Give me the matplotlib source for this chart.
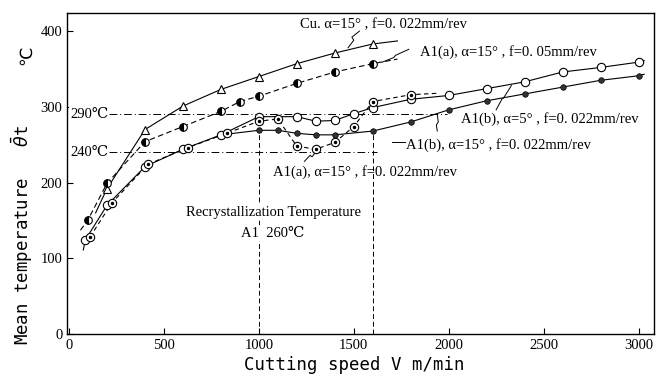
import matplotlib
matplotlib.use("Agg")
import matplotlib.pyplot as plt

# Cu, alpha=15, f=0.022
cu_v = [200, 400, 600, 800, 1000, 1200, 1400, 1600]
cu_t = [192, 270, 301, 323, 340, 357, 371, 383]
cu_line_v = [140] + cu_v + [1730]
cu_line_t = [160] + cu_t + [387]

# Al(a), alpha=15, f=0.05
a05_v = [100, 200, 400, 600, 800, 900, 1000, 1200, 1400, 1600]
a05_t = [151, 199, 254, 274, 294, 307, 314, 331, 346, 357]
a05_line_v = [60] + a05_v + [1730]
a05_line_t = [137] + a05_t + [363]

# Al(b), alpha=5, f=0.022 (open circles)
b5_v = [85, 200, 400, 600, 800, 1000, 1200, 1300, 1400, 1500, 1600,
        1800, 2000, 2200, 2400, 2600, 2800, 3000]
b5_t = [124, 170, 221, 244, 263, 287, 287, 281, 282, 291, 299,
        310, 315, 324, 333, 346, 352, 359]
b5_line_v = [75] + b5_v + [3030]
b5_line_t = [111] + b5_t + [361]

# Al(b), alpha=15, f=0.022 (filled circles)
b15_v = [1000, 1100, 1200, 1300, 1400, 1600, 1800, 2000, 2200, 2400, 2600, 2800, 3000]
b15_t = [269, 269, 265, 263, 263, 268, 280, 296, 308, 317, 326, 335, 341]
b15_line_v = [800] + b15_v + [3030]
b15_line_t = [263] + b15_t + [343]

# Al(a), alpha=15, f=0.022 (dotted circles)
a22_v = [110, 225, 415, 625, 830, 1000, 1100, 1200, 1300, 1400, 1500, 1600, 1800]
a22_t = [128, 173, 224, 246, 265, 281, 284, 248, 244, 253, 274, 307, 316]
a22_line_v = a22_v + [1950]
a22_line_t = a22_t + [318]

x_ticks = [0, 500, 1000, 1500, 2000, 2500, 3000]
y_ticks = [0, 100, 200, 300, 400]

serif = ['Liberation Serif', 'DejaVu Serif', 'DejaVu Sans']
mono = ['DejaVu Sans Mono', 'DejaVu Sans']

fig = plt.figure(figsize=(6.65, 3.8), dpi=100)
ax = fig.add_axes([0.101, 0.121, 0.882, 0.845])
k = 'black'
lw = 0.8

# reference lines
ax.plot([210, 1990], [290, 290], color=k, lw=0.7, linestyle=(0, (8, 3, 1, 3)), zorder=1)
ax.plot([210, 1620], [240, 240], color=k, lw=0.7, linestyle=(0, (8, 3, 1, 3)), zorder=1)
ax.plot([1000, 1000], [0, 268], color=k, lw=0.7, linestyle=(0, (5, 3)), zorder=1)
ax.plot([1600, 1600], [0, 266], color=k, lw=0.7, linestyle=(0, (5, 3)), zorder=1)
ax.text(5, 290, '290℃', family=serif, fontsize=10.5, ha='left', va='center',
        bbox=dict(facecolor='white', edgecolor='none', pad=0.5), zorder=2)
ax.text(5, 240, '240℃', family=serif, fontsize=10.5, ha='left', va='center',
        bbox=dict(facecolor='white', edgecolor='none', pad=0.5), zorder=2)

# curves
ax.plot(cu_line_v, cu_line_t, color=k, lw=lw, zorder=3)
ax.plot(cu_v, cu_t, linestyle='none', marker='^', ms=6, mfc='white', mec=k, mew=0.8, zorder=5)

ax.plot(a05_line_v, a05_line_t, color=k, lw=lw, linestyle=(0, (5, 3)), zorder=3)
ax.plot(a05_v, a05_t, linestyle='none', marker='o', ms=5.5, fillstyle='left',
        mfc=k, mfcalt='white', mec=k, mew=0.8, zorder=5)

ax.plot(b5_line_v, b5_line_t, color=k, lw=lw, zorder=3)
ax.plot(b5_v, b5_t, linestyle='none', marker='o', ms=6, mfc='white', mec=k, mew=0.8, zorder=5)

ax.plot(b15_line_v, b15_line_t, color=k, lw=lw, zorder=3)
ax.plot(b15_v, b15_t, linestyle='none', marker='o', ms=4, mfc='#333333', mec=k, mew=0.5, zorder=5)

ax.plot(a22_line_v, a22_line_t, color=k, lw=lw, linestyle=(0, (4, 3)), zorder=3)
ax.plot(a22_v, a22_t, linestyle='none', marker='o', ms=6, mfc='white', mec=k, mew=0.8, zorder=6)
ax.plot(a22_v, a22_t, linestyle='none', marker='o', ms=1.5, mfc=k, mec=k, zorder=7)

# curve labels with leaders
lab = dict(family=serif, fontsize=10.5, ha='left', va='center')
ax.text(1216, 408, 'Cu. α=15° , f=0. 022mm/rev', **lab)
ax.plot([1530, 1490, 1500, 1470], [400, 392, 388, 378], color=k, lw=0.7)
ax.text(1847, 373, 'A1(a), α=15° , f=0. 05mm/rev', **lab)
ax.plot([1790, 1720, 1710, 1650], [376, 368, 365, 359], color=k, lw=0.7)
ax.text(2067, 284, 'A1(b), α=5° , f=0. 022mm/rev', **lab)
ax.plot([2250, 2280, 2290, 2330], [296, 310, 312, 328], color=k, lw=0.7)
ax.text(1777, 250, 'A1(b), α=15° , f=0. 022mm/rev', **lab)
ax.plot([1700, 1770], [254, 254], color=k, lw=0.7)
ax.plot([1940, 1935, 1945, 1940], [268, 276, 280, 290], color=k, lw=0.7)
ax.text(1075, 214, 'A1(a), α=15° , f=0. 022mm/rev', **lab)
ax.plot([1240, 1270, 1280, 1305], [228, 236, 234, 242], color=k, lw=0.7)

box = dict(facecolor='white', edgecolor='none', pad=1)
ax.text(1075, 161, 'Recrystallization Temperature', family=serif, fontsize=10.5,
        ha='center', va='center', bbox=box, zorder=4)
ax.text(1075, 133, 'A1  260℃', family=serif, fontsize=10.5,
        ha='center', va='center', bbox=box, zorder=4)

ax.set_xlim(-10, 3080)
ax.set_ylim(0, 424)
ax.set_xticks(x_ticks)
ax.set_yticks(y_ticks)
ax.tick_params(direction='in', length=4, width=0.8, labelsize=10.5)
for t in ax.get_xticklabels() + ax.get_yticklabels():
    t.set_family(serif)
for s in ax.spines.values():
    s.set_linewidth(1.0)

ax.set_xlabel('Cutting speed V m/min', family=mono, fontsize=12.5)
ax.xaxis.set_label_coords(0.49, -0.07)
ax.set_ylabel('Mean temperature   $\\bar{\\theta}$t', family=mono, fontsize=12.5)
ax.yaxis.set_label_coords(-0.055, 0.31)
# unit placed separately (mathtext in the label has no ℃ glyph)
fig.text(0.039, 0.855, '℃', family=['DejaVu Sans'], fontsize=12.5,
         rotation=90, ha='center', va='center')

fig.savefig('out.png', dpi=100)
